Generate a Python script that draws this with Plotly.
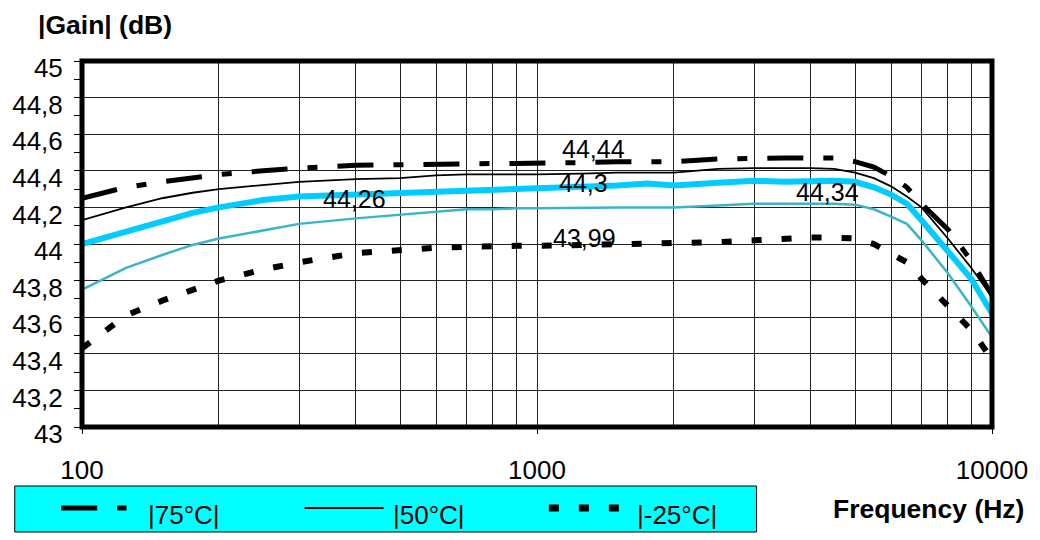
import numpy as np
import plotly.graph_objects as go

# Frequency points (Hz)
freq = [100, 125, 150, 175, 200, 250, 300, 400, 500, 600, 700, 800, 900, 1000,
        1250, 1500, 1750, 2000, 2500, 3000, 3500, 4000, 4500, 5000, 5500,
        6000, 6500, 7000, 8000, 9000, 10000]

# |Gain| in dB for each temperature
gain_75 = [44.25, 44.31, 44.34, 44.36, 44.38, 44.40, 44.415, 44.43, 44.435, 44.44,
           44.44, 44.44, 44.44, 44.44, 44.445, 44.45, 44.45, 44.45, 44.465, 44.47,
           44.47, 44.47, 44.47, 44.45, 44.42, 44.37, 44.31, 44.22, 44.08, 43.91, 43.72]
gain_50 = [44.13, 44.20, 44.25, 44.28, 44.30, 44.32, 44.34, 44.355, 44.36, 44.375,
           44.38, 44.38, 44.38, 44.38, 44.385, 44.39, 44.39, 44.39, 44.41, 44.415,
           44.415, 44.415, 44.41, 44.39, 44.36, 44.315, 44.26, 44.20, 44.03, 43.87, 43.71]
gain_25 = [44.00, 44.07, 44.13, 44.17, 44.20, 44.24, 44.26, 44.27, 44.28, 44.285,
           44.29, 44.295, 44.30, 44.30, 44.31, 44.32, 44.33, 44.32, 44.335, 44.345,
           44.34, 44.345, 44.345, 44.34, 44.31, 44.27, 44.22, 44.13, 43.96, 43.81, 43.62]
gain_0 = [43.75, 43.87, 43.94, 43.995, 44.03, 44.075, 44.11, 44.14, 44.16, 44.18,
          44.19, 44.19, 44.195, 44.195, 44.20, 44.20, 44.20, 44.20, 44.21, 44.22,
          44.22, 44.22, 44.22, 44.215, 44.19, 44.15, 44.11, 44.02, 43.84, 43.66, 43.49]
gain_m25 = [43.43, 43.61, 43.69, 43.75, 43.80, 43.86, 43.90, 43.95, 43.97, 43.98,
            43.985, 43.99, 43.99, 43.99, 43.995, 44.00, 44.00, 44.00, 44.01, 44.02,
            44.03, 44.035, 44.035, 44.03, 44.00, 43.95, 43.90, 43.81, 43.66, 43.53, 43.37]

legend_names = ["|75°C|", "|50°C|", "|-25°C|"]
x_tick_vals = [100, 1000, 10000]
x_tick_text = ["100", "1000", "10000"]
y_tick_vals = [43.0, 43.2, 43.4, 43.6, 43.8, 44.0, 44.2, 44.4, 44.6, 44.8, 45.0]
y_tick_text = ["43", "43,2", "43,4", "43,6", "43,8", "44", "44,2", "44,4", "44,6", "44,8", "45"]

# Plot-area geometry in pixels (used to place text and the legend box)
W, H = 1040, 540
L, R, T, B = 78, 42, 61, 113
PW, PH = W - L - R, H - T - B


def px_x(px):
    return (px - L) / PW


def px_y(py):
    return (H - B - py) / PH


FONT = "Liberation Sans, Arial, sans-serif"
CYAN = "#00CCFF"
TEAL = "#3CB4C8"
DASH_75 = "36px,20px,10px,20px"
DASH_M25 = "10px,20px"

fig = go.Figure()
series = [
    (gain_0, dict(color=TEAL, width=2.5)),
    (gain_m25, dict(color="black", width=6, dash=DASH_M25)),
    (gain_25, dict(color=CYAN, width=6)),
    (gain_50, dict(color="black", width=1.8)),
    (gain_75, dict(color="black", width=5, dash=DASH_75)),
]
for ys, line in series:
    fig.add_trace(go.Scatter(x=freq, y=ys, mode="lines", line=line,
                             showlegend=False, hoverinfo="skip"))

minor_x = [m * d for d in (100, 1000) for m in range(2, 10)]

fig.update_xaxes(
    type="log", range=[2, 4],
    tickvals=x_tick_vals, ticktext=x_tick_text,
    ticks="outside", ticklen=6, tickcolor="black", tickwidth=1,
    ticklabelstandoff=14,
    showgrid=True, gridcolor="#222222", gridwidth=1,
    minor=dict(tickvals=minor_x, showgrid=True, gridcolor="#222222", gridwidth=1, ticks=""),
    showline=False, zeroline=False,
    tickfont=dict(family=FONT, size=26, color="black"),
)
fig.update_yaxes(
    range=[43, 45],
    tickvals=y_tick_vals, ticktext=y_tick_text,
    ticks="outside", ticklen=7, tickcolor="black", tickwidth=1,
    ticklabelstandoff=6, ticklabelshift=7,
    showgrid=True, gridcolor="#222222", gridwidth=1,
    minor=dict(dtick=0.1, ticks="outside", ticklen=7, tickcolor="black", showgrid=False),
    showline=False, zeroline=False,
    tickfont=dict(family=FONT, size=26, color="black"),
)

# Value labels attached to individual points
idx = {f: i for i, f in enumerate(freq)}
value_labels = [
    (gain_75, 1000, 23, 14),
    (gain_25, 1000, 20, 6),
    (gain_m25, 1000, 14, 8),
    (gain_25, 300, 22, -3),
    (gain_25, 3500, 9, -10),
]
for ys, f, dx, dy in value_labels:
    v = ys[idx[f]]
    txt = f"{v:.2f}".rstrip("0").rstrip(".").replace(".", ",")
    fig.add_annotation(x=np.log10(f), y=v, xref="x", yref="y", text=txt,
                       showarrow=False, xanchor="left", yanchor="middle",
                       xshift=dx, yshift=dy,
                       font=dict(family=FONT, size=25, color="black"))

# Axis titles
fig.add_annotation(x=px_x(31), y=px_y(25), xref="paper", yref="paper",
                   text="<b>|Gain| (dB)</b>", showarrow=False,
                   xanchor="left", yanchor="middle",
                   font=dict(family=FONT, size=26.5, color="black"))
fig.add_annotation(x=px_x(835), y=px_y(509), xref="paper", yref="paper",
                   text="<b>Frequency (Hz)</b>", showarrow=False,
                   xanchor="left", yanchor="middle",
                   font=dict(family=FONT, size=26.5, color="black"))

# Thick frame around the plot area
fig.add_shape(type="rect", xref="paper", yref="paper", x0=0, x1=1, y0=0, y1=1,
              line=dict(color="black", width=5), layer="above")

# Legend box with line samples
fig.add_shape(type="rect", xref="paper", yref="paper",
              x0=px_x(10), x1=px_x(760), y0=px_y(532), y1=px_y(486),
              fillcolor="#00FFFF", line=dict(color="black", width=1), layer="above")
legend_items = [
    (legend_names[0], 57, 123, 143, dict(color="black", width=5, dash=DASH_75)),
    (legend_names[1], 303, 383, 390, dict(color="black", width=2)),
    (legend_names[2], 550, 623, 637, dict(color="black", width=7, dash=DASH_M25)),
]
for name, x0, x1, tx, line in legend_items:
    fig.add_shape(type="line", xref="paper", yref="paper",
                  x0=px_x(x0), x1=px_x(x1), y0=px_y(508), y1=px_y(508),
                  line=line, layer="above")
    fig.add_annotation(x=px_x(tx), y=px_y(515), xref="paper", yref="paper",
                       text=name, showarrow=False, xanchor="left", yanchor="middle",
                       font=dict(family=FONT, size=26, color="black"))

fig.update_layout(
    width=W, height=H,
    margin=dict(l=L, r=R, t=T, b=B),
    paper_bgcolor="white", plot_bgcolor="white",
    showlegend=False,
)

fig.write_html("out.html")
